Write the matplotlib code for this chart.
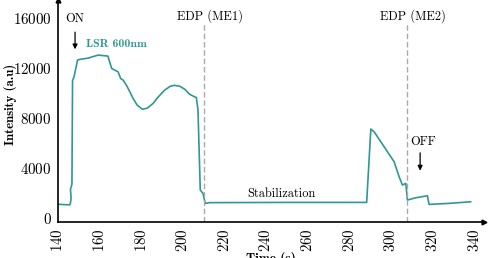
import matplotlib
matplotlib.use("Agg")
import matplotlib.pyplot as plt

plt.rcParams["font.family"] = ["cmr10", "DejaVu Serif"]
plt.rcParams["axes.formatter.use_mathtext"] = True

# signal (time in s, intensity in a.u)
time_s = [140, 145.6, 146.0, 146.3, 146.0, 146.7, 147.0, 147.7, 149.4, 150.6,
          154.5, 159.3, 164.0, 165.8, 168.9, 170.1, 171.3, 173, 175, 176.1,
          178, 180.6, 183, 185.7, 188, 191, 194, 196, 198.5, 201,
          203.3, 205.7, 206.5, 207.3, 208.4, 209.7, 210.8, 212.9, 250, 288.4,
          290.4, 292, 301.6, 304, 305.6, 307.2, 308, 312, 317.6, 318.4,
          328, 338.4]
intensity = [1100, 1050, 1200, 1600, 2300, 2700, 11000, 11300, 12640, 12700,
             12800, 13040, 12960, 11970, 11700, 11170, 11040, 10600, 9950, 9570,
             9050, 8700, 8800, 9170, 9650, 10200, 10550, 10620, 10550, 10300,
             9900, 9700, 9650, 8640, 2240, 1970, 1170, 1230, 1250, 1250,
             7120, 6900, 4500, 3300, 2640, 2770, 1440, 1620, 1780, 1090,
             1170, 1300]

edp_times = [210, 308]
edp_labels = ["EDP (ME1)", "EDP (ME2)"]
x_ticks = list(range(140, 341, 20))
y_ticks = [0, 4000, 8000, 12000, 16000]

teal = "#2f9794"

fig = plt.figure(figsize=(4.89, 2.58), dpi=100)
ax = fig.add_axes([0.1186, 0.1395, 0.872, 0.86])

ax.plot(time_s, intensity, color=teal, lw=1.2)

for t, lab, tx in zip(edp_times, edp_labels, [212.9, 310.6]):
    ax.plot([t, t], [-320, 15600], color="#aaaaaa", lw=1, dashes=(4, 2))
    ax.text(tx, 16200, lab, ha="center", va="center", fontsize=8.9)

ax.annotate("", xy=(148.2, 13280), xytext=(148.2, 15100),
            arrowprops=dict(arrowstyle="-|>", color="black", lw=0.9,
                            mutation_scale=7))
ax.text(148.2, 15900, "ON", ha="center", va="center", fontsize=8.9)
ax.text(168.3, 13950, "LSR 600nm", ha="center", va="center", fontsize=8.5,
        color=teal, family="cmb10")
ax.text(247.4, 1950, "Stabilization", ha="center", va="center", fontsize=8.9)
ax.annotate("", xy=(314.1, 3570), xytext=(314.1, 5440),
            arrowprops=dict(arrowstyle="-|>", color="black", lw=0.9,
                            mutation_scale=7))
ax.text(315.5, 6100, "OFF", ha="center", va="center", fontsize=8.9)

ax.set_xlim(140, 345)
ax.set_ylim(-320, 17440)
ax.set_xticks(x_ticks)
ax.set_yticks(y_ticks)
ax.tick_params(length=0, labelsize=10.8)
ax.tick_params(axis="y", pad=4.5)
ax.tick_params(axis="x", pad=4.5, labelrotation=90)

for s in ["top", "right"]:
    ax.spines[s].set_visible(False)
for s in ["left", "bottom"]:
    ax.spines[s].set_linewidth(1.2)
ax.plot(1, -320, ">k", markersize=3.5, transform=ax.get_yaxis_transform(), clip_on=False)
ax.plot(140, 1, "^k", markersize=3.5, transform=ax.get_xaxis_transform(), clip_on=False)

ax.set_ylabel("Intensity (a.u)", family="cmb10", fontsize=9.2)
ax.yaxis.set_label_coords(-0.097, 0.53)
ax.set_xlabel("Time (s)", family="cmb10", fontsize=9.5, labelpad=0)

fig.savefig("out.png", dpi=100)
